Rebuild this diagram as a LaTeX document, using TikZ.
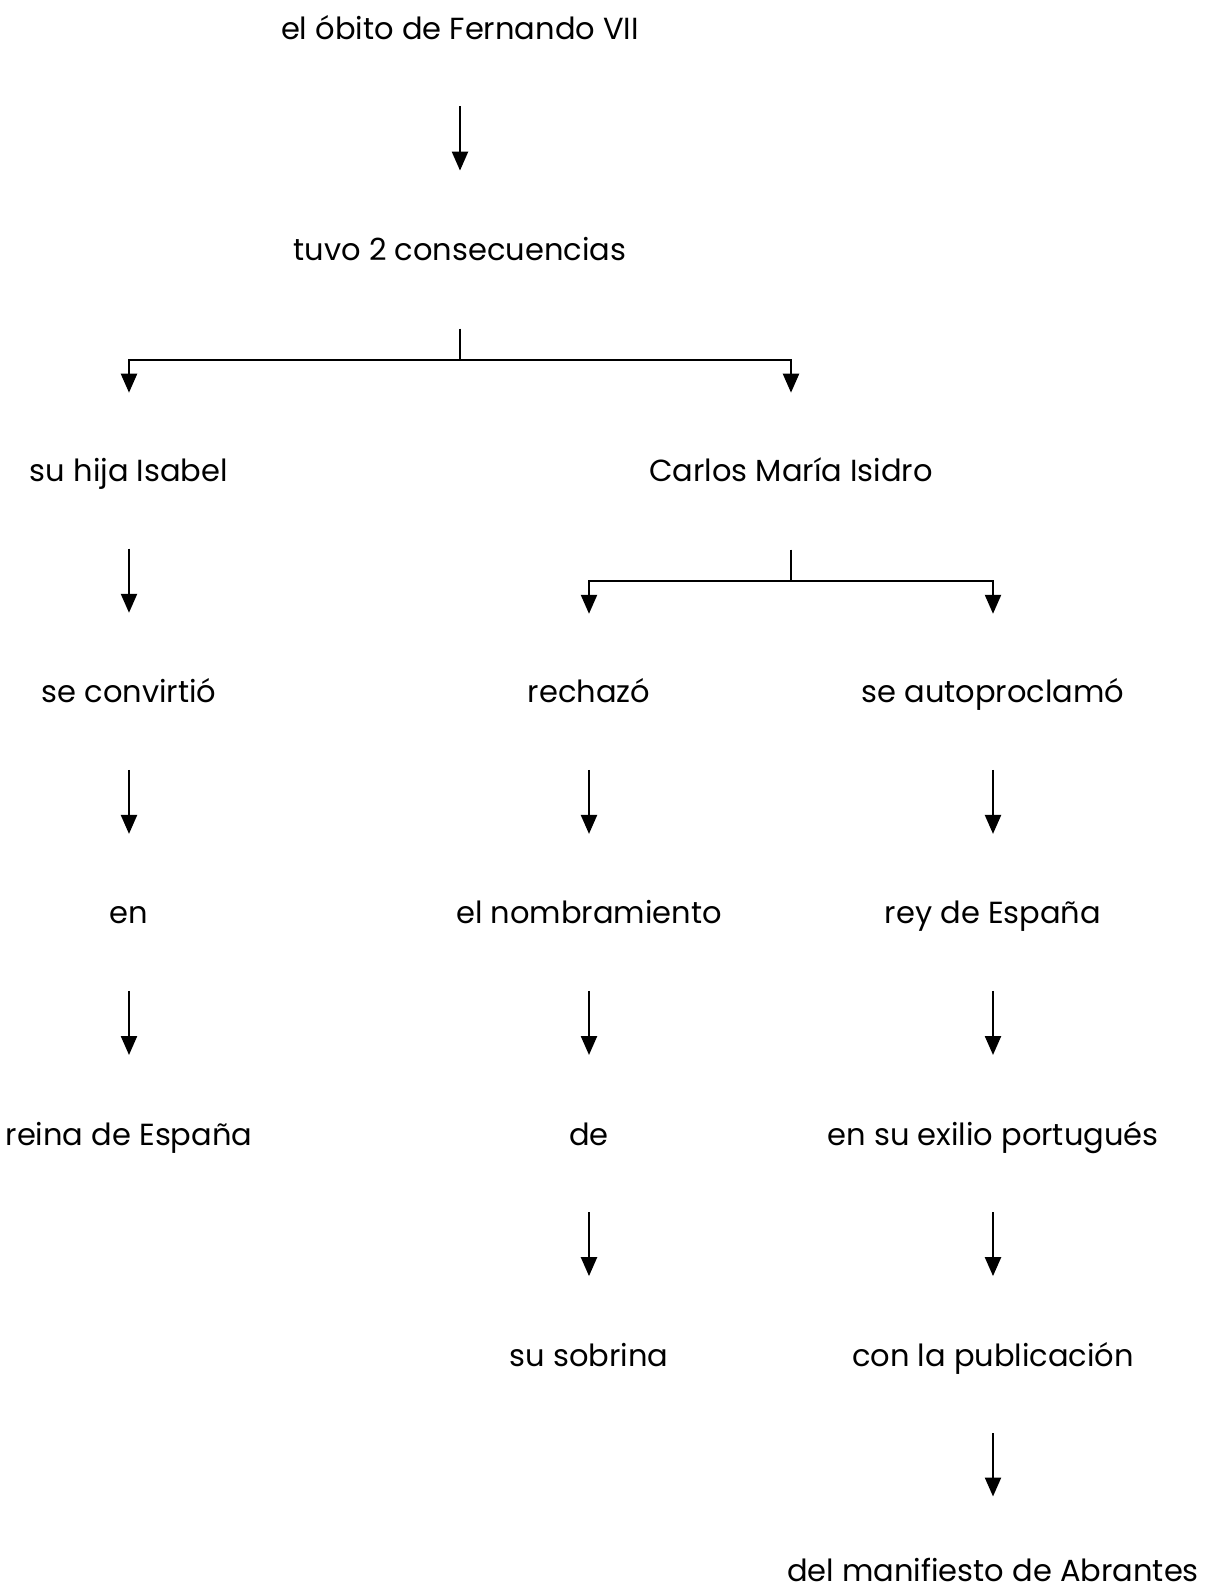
\documentclass[tikz,border=0pt]{standalone}
\usepackage{fontspec}
\setmainfont{Poppins}
\usetikzlibrary{arrows.meta}
\begin{document}
\begin{tikzpicture}[x=1pt,y=-1pt,
  lbl/.style={anchor=base,inner sep=0pt,font=\fontsize{30.5pt}{36pt}\selectfont},
  arr/.style={line width=2.3pt,-{Triangle[width=16pt,length=19pt]}},
  ln/.style={line width=2.3pt}]
\useasboundingbox (0,0) rectangle (1212,1589);
% rows: baseline = 39.5 + 221.1 i
\node[lbl] (t0) at (460,39.5) {el óbito de Fernando VII};
\node[lbl] (t1) at (460,260.6) {tuvo 2 consecuencias};
\node[lbl] (l2) at (129,481.7) {su hija Isabel};
\node[lbl] (c2) at (791,481.7) {Carlos María Isidro};
\node[lbl] (l3) at (129,702.8) {se convirtió};
\node[lbl] (m3) at (589,702.8) {rechazó};
\node[lbl] (r3) at (993,702.8) {se autoproclamó};
\node[lbl] (l4) at (129,923.9) {en};
\node[lbl] (m4) at (589,923.9) {el nombramiento};
\node[lbl] (r4) at (993,923.9) {rey de España};
\node[lbl] (l5) at (129,1145) {reina de España};
\node[lbl] (m5) at (589,1145) {de};
\node[lbl] (r5) at (993,1145) {en su exilio portugués};
\node[lbl] (m6) at (589,1366.1) {su sobrina};
\node[lbl] (r6) at (993,1366.1) {con la publicación};
\node[lbl] (r7) at (993,1581) {del manifiesto de Abrantes};
% straight arrows
\foreach \a/\b in {t0/t1,l2/l3,l3/l4,l4/l5,m3/m4,m4/m5,m5/m6,r3/r4,r4/r5,r5/r6}
  \draw[arr] ([yshift=-67pt]\a.base) -- ([yshift=90pt]\b.base);
\draw[arr] ([yshift=-67pt]r6.base) -- ([yshift=84.5pt]r7.base);
% tee from t1
\coordinate (j1) at ([yshift=-99.5pt]t1.base);
\draw[ln] ([yshift=-68pt]t1.base) -- (j1);
\draw[arr] (j1) -| ([yshift=89pt]l2.base);
\draw[arr] (j1) -| ([yshift=89pt]c2.base);
% tee from c2
\coordinate (j2) at ([yshift=-99.5pt]c2.base);
\draw[ln] ([yshift=-68pt]c2.base) -- (j2);
\draw[arr] (j2) -| ([yshift=89pt]m3.base);
\draw[arr] (j2) -| ([yshift=89pt]r3.base);
\end{tikzpicture}
\end{document}
